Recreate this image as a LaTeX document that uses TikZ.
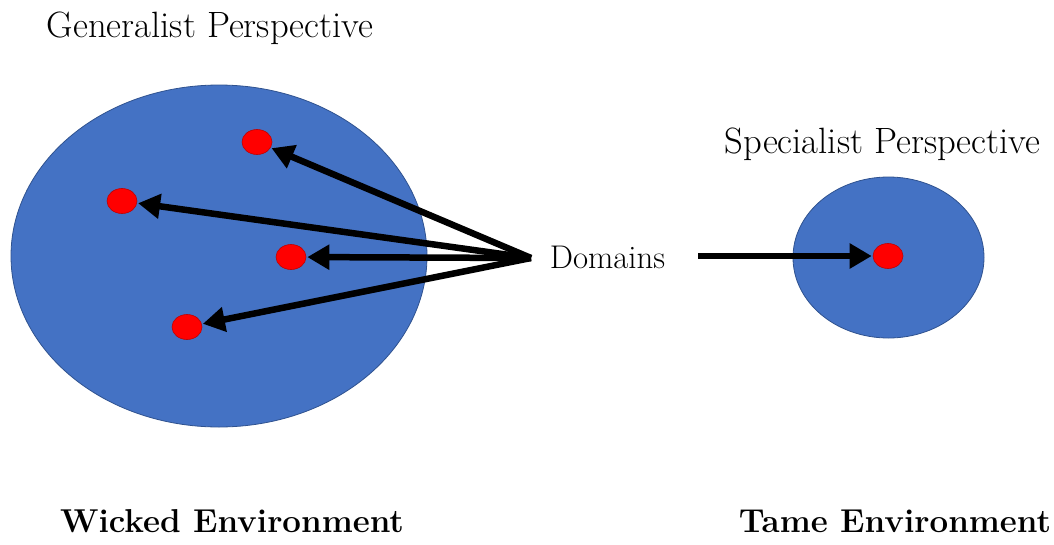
\documentclass[tikz,border=0pt]{standalone}
\usetikzlibrary{arrows.meta,shapes.geometric}

\definecolor{fieldblue}{HTML}{4472C4}
\definecolor{fieldedge}{HTML}{2F528F}
\definecolor{dotred}{HTML}{FF0000}
\definecolor{dotedge}{HTML}{C00000}

\tikzset{
  field/.style={ellipse, fill=fieldblue, draw=fieldedge, line width=0.8pt, inner sep=0pt},
  domaindot/.style={ellipse, fill=dotred, draw=dotedge, line width=0.6pt,
    minimum width=30pt, minimum height=25pt, inner sep=0pt},
  pointer/.style={line width=6.5pt, -{Triangle[length=22pt,width=24pt]}, shorten >=1pt},
  persptext/.style={font=\rmfamily\fontsize{36.6}{44}\selectfont, anchor=base, inner sep=0pt},
  domtext/.style={font=\rmfamily\fontsize{32.8}{39}\selectfont, anchor=base, inner sep=0pt},
  envtext/.style={font=\rmfamily\bfseries\fontsize{33.1}{40}\selectfont, anchor=base, inner sep=0pt}
}

\begin{document}
\begin{tikzpicture}[x=1pt, y=-1pt]
  \useasboundingbox (0,0) rectangle (1054,544);

  % the two environments
  \node[field, minimum width=416pt, minimum height=342pt] (wide) at (219,256) {};
  \node[field, minimum width=191pt, minimum height=161pt] (narrow) at (888.5,257.5) {};

  % domains inside each environment
  \node[domaindot] (d1) at (257,142) {};
  \node[domaindot] (d2) at (122,201) {};
  \node[domaindot] (d3) at (291,257) {};
  \node[domaindot] (d4) at (187,327) {};
  \node[domaindot] (d5) at (888,256) {};

  % labels
  \node[persptext] (gen) at (210,37) {Generalist Perspective};
  \node[persptext] (spec) at (882.5,153) {Specialist Perspective};
  \node[domtext] (dom) at (607.5,268) {Domains};
  \node[envtext] (wicked) at (232,532) {Wicked Environment};
  \node[envtext] (tame) at (895,532) {Tame Environment};

  % arrows out of the Domains label
  \coordinate (fan) at (531,258);
  \coordinate (lead) at (698,256);
  \foreach \d in {d1,d2,d3,d4} {
    \draw[pointer] (fan) -- (\d);
  }
  \draw[pointer] (lead) -- (d5);
\end{tikzpicture}
\end{document}
